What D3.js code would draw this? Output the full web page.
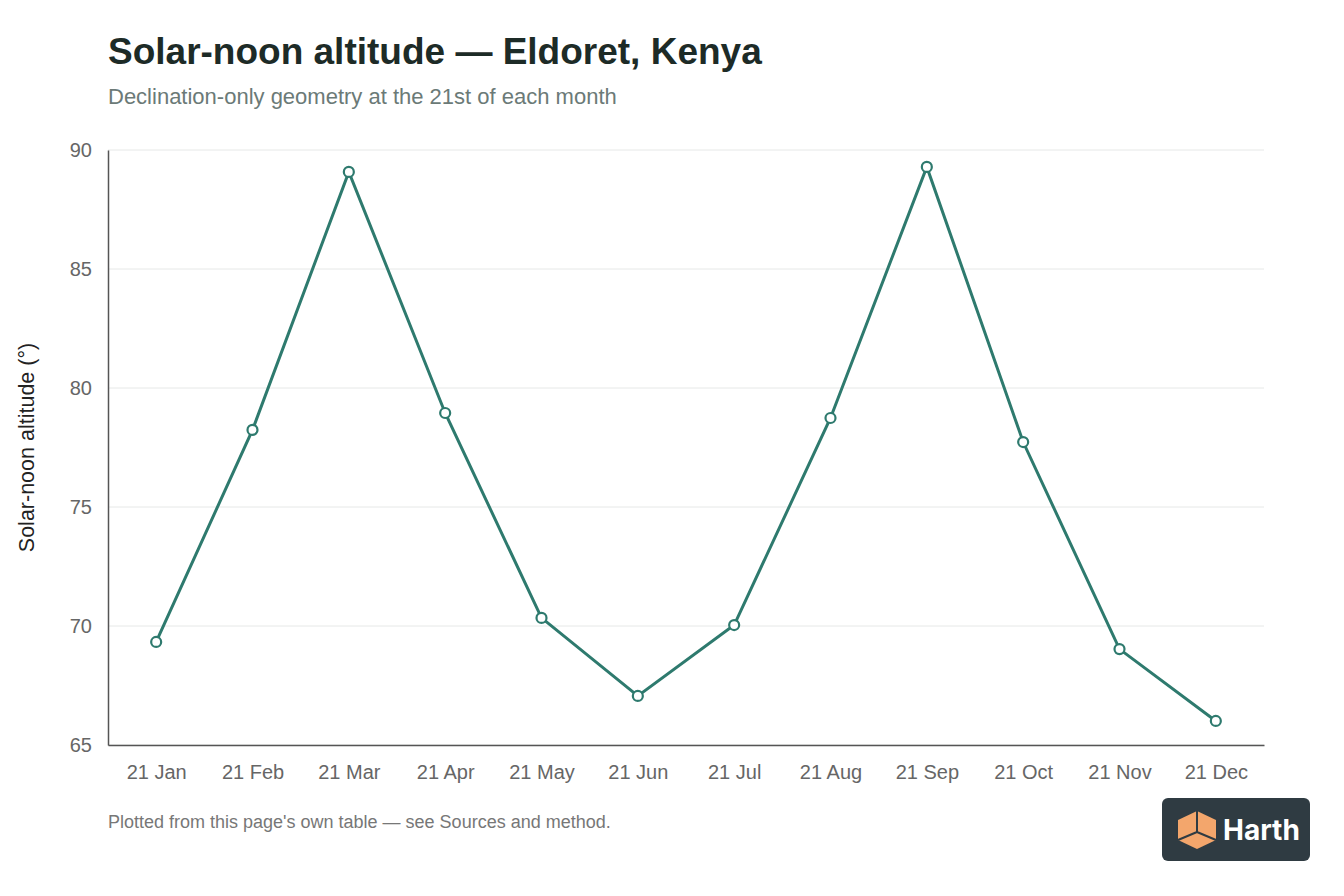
<!DOCTYPE html>
<html>
<head>
<meta charset="utf-8">
<script src="https://cdn.jsdelivr.net/npm/d3@7"></script>
<style>
  body { margin: 0; background: #fff; }
  svg { display: block; font-family: "Liberation Sans", Arial, sans-serif; }
</style>
</head>
<body>
<div id="chart"></div>
<script>
// 21st of each month, Eldoret (0.5 N)
var months = ["21 Jan", "21 Feb", "21 Mar", "21 Apr", "21 May", "21 Jun",
              "21 Jul", "21 Aug", "21 Sep", "21 Oct", "21 Nov", "21 Dec"];
var altitude = [69.33, 78.24, 89.08, 78.95, 70.34, 67.06,
                70.04, 78.74, 89.29, 77.73, 69.03, 66.01];
var yTicks = [65, 70, 75, 80, 85, 90];

var W = 1344, H = 896;
var margin = { top: 150, right: 80, bottom: 151, left: 108 };
var iw = W - margin.left - margin.right,
    ih = H - margin.top - margin.bottom;

var svg = d3.select("#chart").append("svg")
    .attr("width", W)
    .attr("height", H);

svg.append("text")
    .attr("x", 108).attr("y", 64)
    .attr("font-size", 37).attr("font-weight", "bold")
    .attr("fill", "#1d2b27")
    .text("Solar-noon altitude \u2014 Eldoret, Kenya");

svg.append("text")
    .attr("x", 108).attr("y", 104)
    .attr("font-size", 22)
    .attr("fill", "#6b7a77")
    .text("Declination-only geometry at the 21st of each month");

var g = svg.append("g")
    .attr("transform", "translate(" + margin.left + "," + margin.top + ")");

var x = d3.scalePoint().domain(months).range([0, iw]).padding(0.5);
var y = d3.scaleLinear().domain([65, 90]).range([ih, 0]);

////////// GRID //////////
g.selectAll("line.grid")
    .data(yTicks)
    .enter().append("line")
    .attr("class", "grid")
    .attr("x1", 0).attr("x2", iw)
    .attr("y1", function(d) { return y(d); })
    .attr("y2", function(d) { return y(d); })
    .attr("stroke", "#e6e8e7")
    .attr("stroke-width", 1);

////////// AXES //////////
var yAxis = g.append("g")
    .call(d3.axisLeft(y).tickValues(yTicks).tickSize(0).tickPadding(16));
yAxis.select(".domain").attr("stroke", "#555").attr("stroke-width", 1.5);
yAxis.selectAll("text").attr("font-size", 20).attr("fill", "#666")
    .attr("font-family", "Liberation Sans, Arial, sans-serif");

var xAxis = g.append("g")
    .attr("transform", "translate(0," + ih + ")")
    .call(d3.axisBottom(x).tickSize(0).tickPadding(20));
xAxis.select(".domain").attr("stroke", "#555").attr("stroke-width", 1.5);
xAxis.selectAll("text").attr("font-size", 20).attr("fill", "#666")
    .attr("font-family", "Liberation Sans, Arial, sans-serif");

svg.append("text")
    .attr("transform", "translate(34," + (margin.top + ih / 2) + ") rotate(-90)")
    .attr("text-anchor", "middle")
    .attr("font-size", 21.5)
    .attr("fill", "#222")
    .text("Solar-noon altitude (\u00b0)");

////////// LINE + POINTS //////////
var line = d3.line()
    .x(function(d, i) { return x(months[i]); })
    .y(function(d) { return y(d); });

g.append("path")
    .datum(altitude)
    .attr("d", line)
    .attr("fill", "none")
    .attr("stroke", "#2e7a6e")
    .attr("stroke-width", 3);

g.selectAll("circle.pt")
    .data(altitude)
    .enter().append("circle")
    .attr("class", "pt")
    .attr("cx", function(d, i) { return x(months[i]); })
    .attr("cy", function(d) { return y(d); })
    .attr("r", 5)
    .attr("fill", "#fff")
    .attr("stroke", "#2e7a6e")
    .attr("stroke-width", 2.2);

////////// FOOTER //////////
svg.append("text")
    .attr("x", 108).attr("y", 828)
    .attr("font-size", 18)
    .attr("fill", "#777")
    .text("Plotted from this page's own table \u2014 see Sources and method.");

////////// LOGO //////////
var logo = svg.append("g").attr("transform", "translate(1162,798)");
logo.append("rect")
    .attr("width", 148).attr("height", 63).attr("rx", 6)
    .attr("fill", "#2f3b42");
var cube = logo.append("g").attr("transform", "translate(35,32)");
cube.append("path")
    .attr("d", "M0,-19 L19,-10 L19,10 L0,19 L-19,10 L-19,-10 Z")
    .attr("fill", "#f3a66c");
cube.append("path")
    .attr("d", "M0,-19 L0,2 M0,2 L19,10 M0,2 L-19,10")
    .attr("stroke", "#2f3b42").attr("stroke-width", 2).attr("fill", "none");
logo.append("text")
    .attr("x", 61).attr("y", 42)
    .attr("font-size", 28).attr("font-weight", "bold")
    .attr("font-family", "Inter, 'Noto Sans', sans-serif")
    .attr("fill", "#fff")
    .text("Harth");
</script>
</body>
</html>
